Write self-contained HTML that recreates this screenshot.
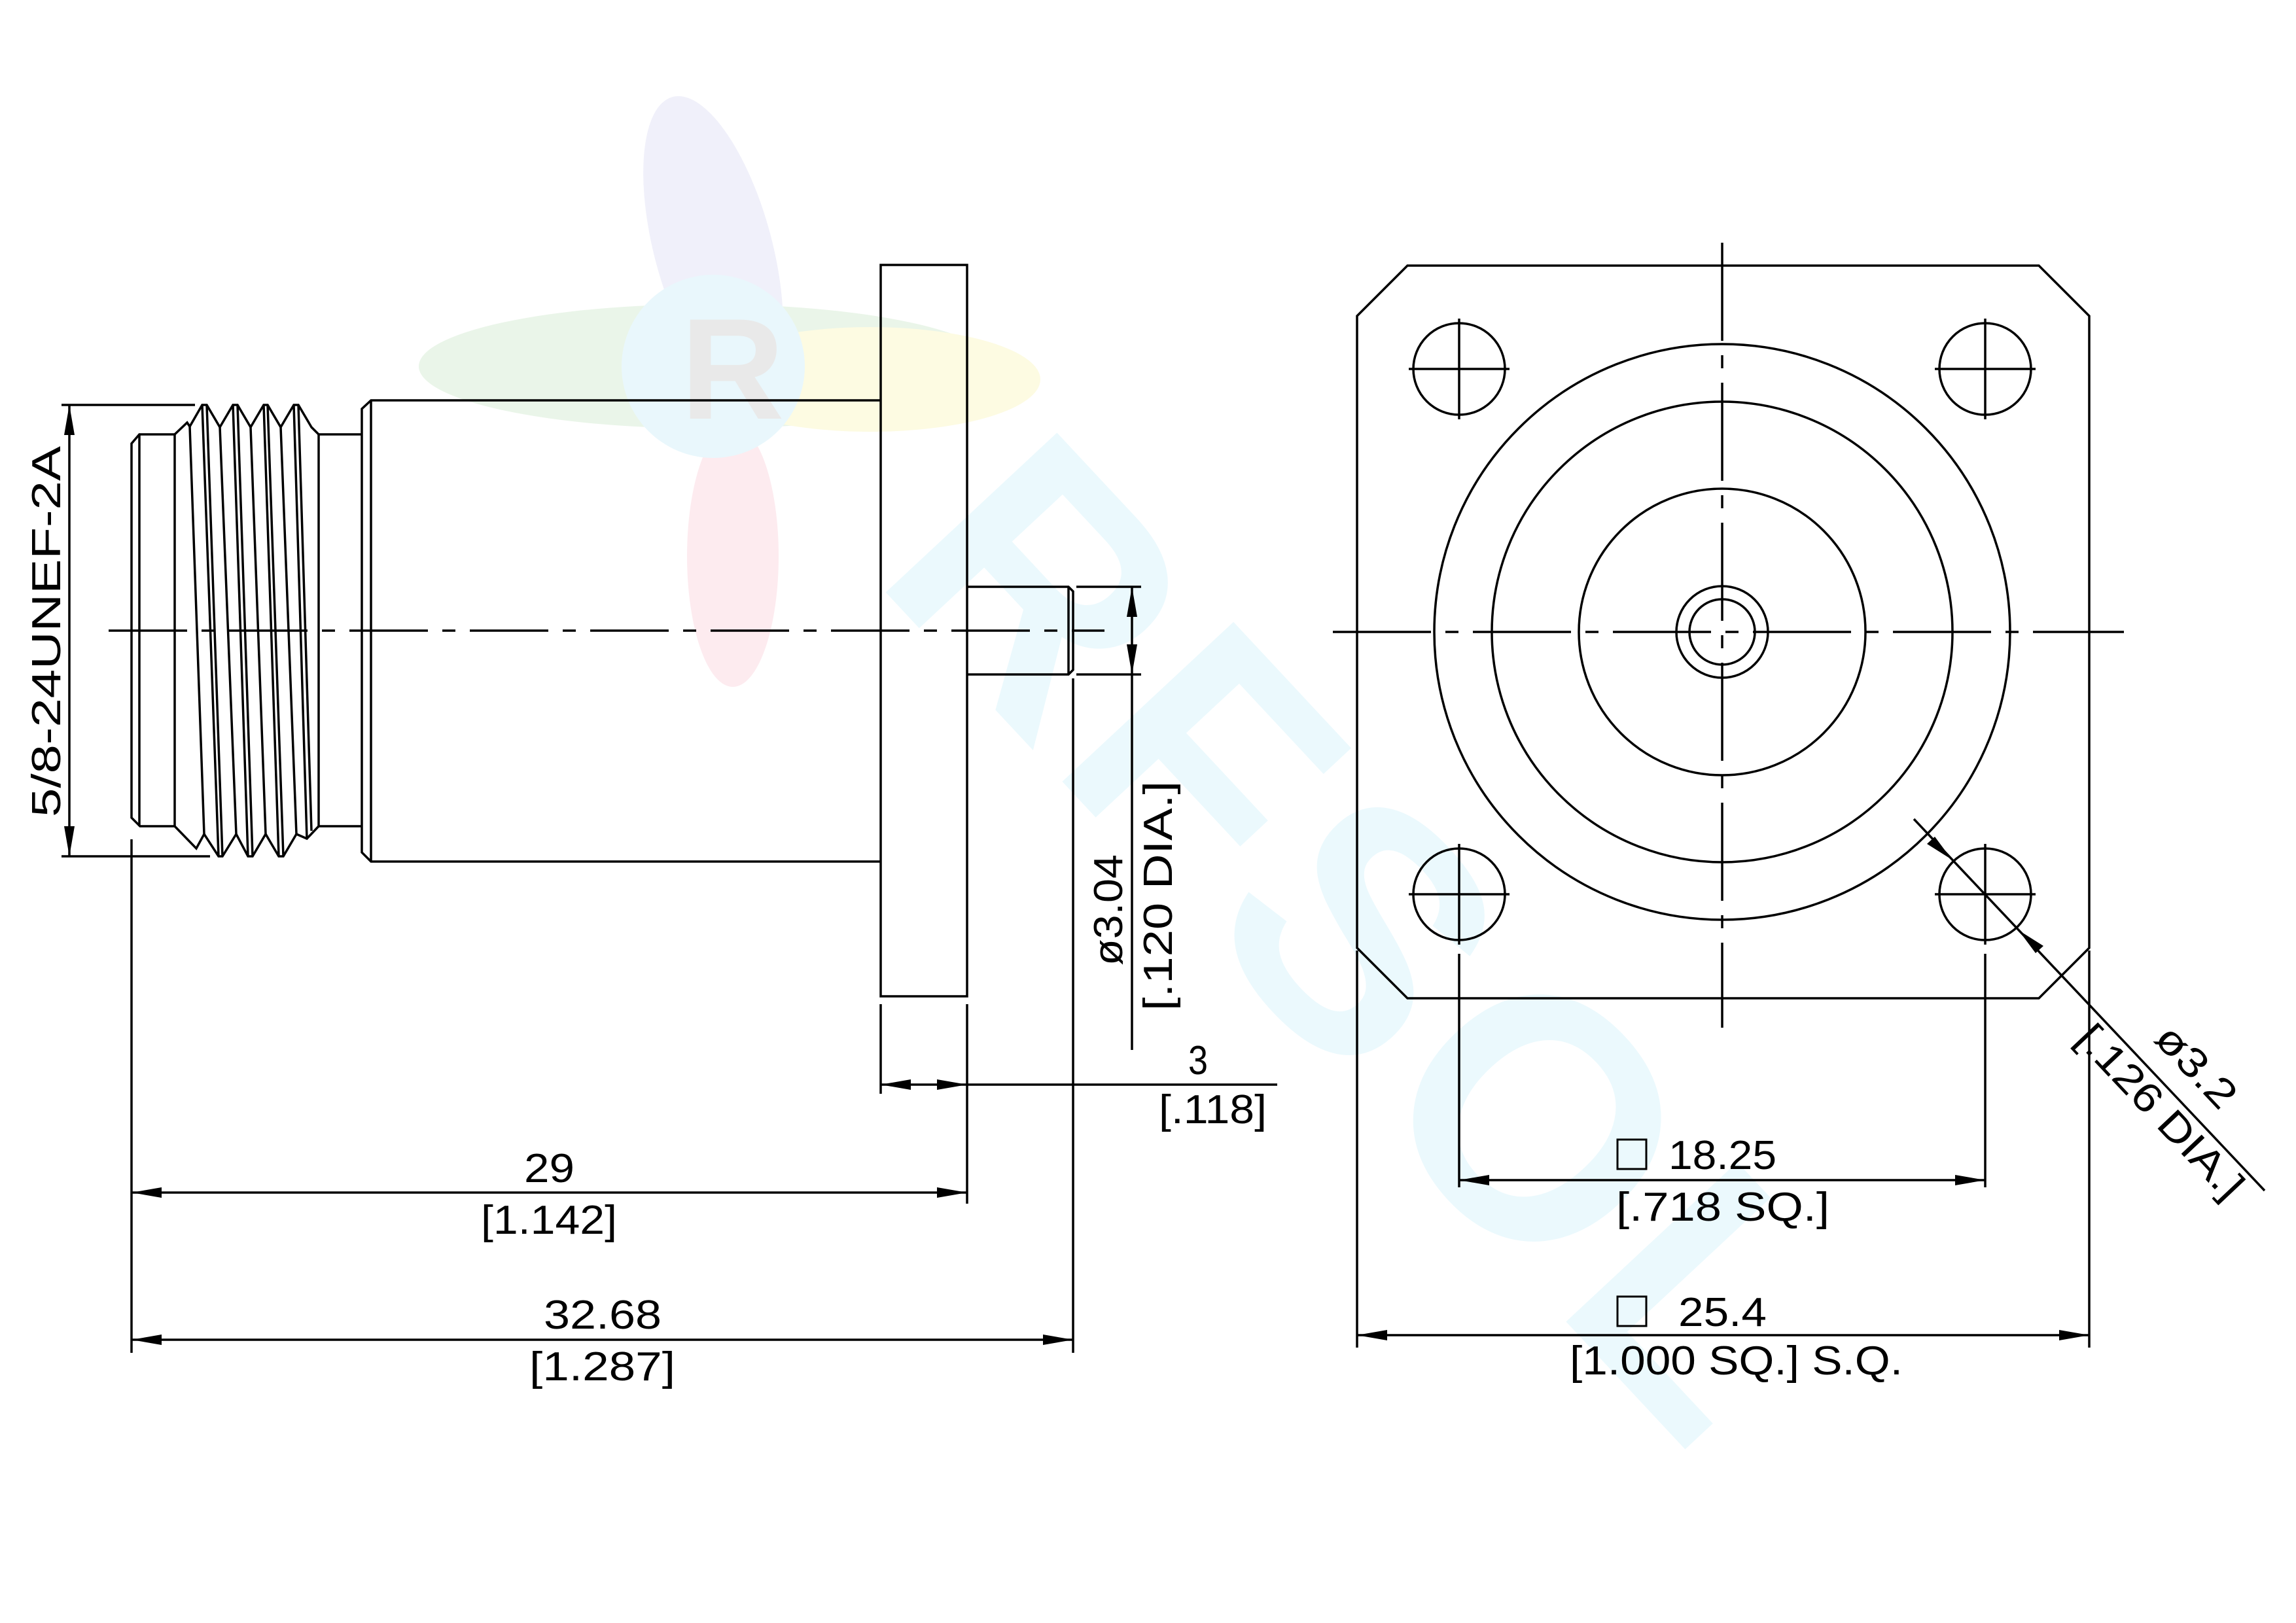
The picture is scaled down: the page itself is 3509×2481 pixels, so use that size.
<!DOCTYPE html>
<html><head><meta charset="utf-8"><style>
html,body{margin:0;padding:0;background:#fff;}
svg{display:block;}
text{font-family:"Liberation Sans",sans-serif;font-size:62px;fill:#000;}
</style></head><body>
<svg width="3509" height="2481" viewBox="0 0 3509 2481" xmlns="http://www.w3.org/2000/svg">
<!-- watermark -->
<g opacity="0.22">
<ellipse cx="1080" cy="560" rx="440" ry="95" fill="#9fd39a"/>
<ellipse cx="1330" cy="580" rx="260" ry="80" fill="#f3ec7a"/>
<ellipse cx="1090" cy="380" rx="90" ry="240" fill="#b9b9e6" transform="rotate(-15 1090 380)"/>
<ellipse cx="1120" cy="850" rx="70" ry="200" fill="#f3a3b5"/>
<circle cx="1090" cy="560" r="140" fill="#9adcf0"/>
<text x="1040" y="640" style="font-size:220px;font-weight:bold;fill:#999">R</text>
</g>
<g opacity="0.18">
<text x="1330" y="880" transform="rotate(47 1330 880)" style="font-size:520px;font-weight:bold;fill:#8fdcf2;letter-spacing:20px">RFSOL</text>
</g>

<g stroke="#000" stroke-width="3.5" fill="none" stroke-linejoin="miter">
<rect x="1346" y="405" width="132" height="1118"/>
<path d="M1346 612 H567 L553 625 V1303 L567 1317 H1346"/>
<line x1="567" y1="612" x2="567" y2="1317"/>
<path d="M553 664 H487 M553 1263 H487"/>
<line x1="487" y1="664" x2="487" y2="1263"/>
<path d="M267 664 H213 L201 678 V1250 L214 1263 H267"/>
<line x1="213" y1="664" x2="213" y2="1263"/>
<line x1="267" y1="664" x2="267" y2="1263"/>
<path d="M267 664 L286 646 L290 652 L309 619 L316 619 L336 653 L356 619 L363 619 L383 653 L403 619 L409 619 L429 653 L449 619 L456 619 L476 653 L487 664"/>
<path d="M267 1263 L300 1297 L312 1275 L334 1309 L340 1309 L361 1275 L379 1309 L386 1309 L406 1275 L426 1309 L433 1309 L453 1275 L469 1282 L487 1263"/>
<path d="M290 652 L312 1275 M309 619 L334 1309 M316 619 L340 1309 M336 653 L361 1275 M356 619 L379 1309 M363 619 L386 1309 M383 653 L406 1275 M403 619 L426 1309 M409 619 L433 1309 M429 653 L453 1275 M449 619 L469 1282 M456 619 L476 1270"/>
<path d="M1478 897 H1633 L1640 904 V1024 L1633 1031 H1478"/>
<line x1="1633" y1="897" x2="1633" y2="1031"/>
<line x1="166" y1="964" x2="1688" y2="964" stroke-dasharray="120,22,20,22"/>

<line x1="94" y1="619" x2="298" y2="619"/>
<line x1="94" y1="1309" x2="321" y2="1309"/>
<line x1="106" y1="619" x2="106" y2="1309"/>
<line x1="1645" y1="897" x2="1744" y2="897"/>
<line x1="1645" y1="1031" x2="1744" y2="1031"/>
<line x1="1730" y1="897" x2="1730" y2="1605"/>
<line x1="201" y1="1283" x2="201" y2="2068"/>
<line x1="1346" y1="1535" x2="1346" y2="1672"/>
<line x1="1478" y1="1535" x2="1478" y2="1840"/>
<line x1="1640" y1="1037" x2="1640" y2="2068"/>
<line x1="1346" y1="1658" x2="1952" y2="1658"/>
<line x1="201" y1="1823" x2="1478" y2="1823"/>
<line x1="201" y1="2048" x2="1640" y2="2048"/>

<path d="M2151 406 H3116 L3193 483 V1449 L3116 1526 H2151 L2074 1449 V483 Z"/>
<circle cx="2632" cy="966" r="440"/>
<circle cx="2632" cy="966" r="352"/>
<circle cx="2632" cy="966" r="219"/>
<circle cx="2632" cy="966" r="70"/>
<circle cx="2632" cy="966" r="50"/>
<circle cx="2230" cy="564" r="70"/>
<circle cx="3034" cy="564" r="70"/>
<circle cx="2230" cy="1367" r="70"/>
<circle cx="3034" cy="1367" r="70"/>
<path d="M2153 564 H2307 M2230 487 V641 M2957 564 H3111 M3034 487 V641 M2153 1367 H2307 M2230 1290 V1444 M2957 1367 H3111 M3034 1290 V1444"/>
<line x1="2037" y1="966" x2="3246" y2="966" stroke-dasharray="150,22,20,22"/>
<line x1="2632" y1="371" x2="2632" y2="1571" stroke-dasharray="150,22,20,22"/>
<line x1="2074" y1="1453" x2="2074" y2="2060"/>
<line x1="3193" y1="1453" x2="3193" y2="2060"/>
<line x1="2230" y1="1458" x2="2230" y2="1815"/>
<line x1="3034" y1="1458" x2="3034" y2="1815"/>
<line x1="2230" y1="1804" x2="3034" y2="1804"/>
<line x1="2074" y1="2041" x2="3193" y2="2041"/>
<line x1="2925" y1="1252" x2="3461" y2="1820"/>
</g>

<g fill="#000">
<polygon points="106,619 98,665 114,665"/>
<polygon points="106,1309 98,1263 114,1263"/>
<polygon points="1730,897 1722,943 1738,943"/>
<polygon points="1730,1031 1722,985 1738,985"/>
<polygon points="1346,1658 1392,1650 1392,1666"/>
<polygon points="1478,1658 1432,1650 1432,1666"/>
<polygon points="201,1823 247,1815 247,1831"/>
<polygon points="1478,1823 1432,1815 1432,1831"/>
<polygon points="201,2048 247,2040 247,2056"/>
<polygon points="1640,2048 1594,2040 1594,2056"/>
<polygon points="2230,1804 2276,1796 2276,1812"/>
<polygon points="3034,1804 2988,1796 2988,1812"/>
<polygon points="2074,2041 2120,2033 2120,2049"/>
<polygon points="3193,2041 3147,2033 3147,2049"/>
<polygon points="2983,1314 2945,1290 2957,1279"/>
<polygon points="3085,1422 3123,1446 3111,1457"/>
</g>

<text transform="translate(92 1249) rotate(-90)" x="0" y="0" textLength="567" lengthAdjust="spacingAndGlyphs">5/8-24UNEF-2A</text>
<text transform="translate(1715 1476) rotate(-90)" x="0" y="0" textLength="170" lengthAdjust="spacingAndGlyphs">ø3.04</text>
<text transform="translate(1791 1545) rotate(-90)" x="0" y="0" textLength="351" lengthAdjust="spacingAndGlyphs">[.120 DIA.]</text>
<text x="1816" y="1642" textLength="30" lengthAdjust="spacingAndGlyphs">3</text>
<text x="1771" y="1717" textLength="165" lengthAdjust="spacingAndGlyphs">[.118]</text>
<text x="801" y="1807" textLength="77" lengthAdjust="spacingAndGlyphs">29</text>
<text x="735" y="1886" textLength="208" lengthAdjust="spacingAndGlyphs">[1.142]</text>
<text x="831" y="2031" textLength="180" lengthAdjust="spacingAndGlyphs">32.68</text>
<text x="809" y="2110" textLength="223" lengthAdjust="spacingAndGlyphs">[1.287]</text>
<rect x="2472" y="1742" width="44" height="45" fill="none" stroke="#000" stroke-width="3"/>
<text x="2550" y="1787" textLength="165" lengthAdjust="spacingAndGlyphs">18.25</text>
<text x="2470" y="1866" textLength="326" lengthAdjust="spacingAndGlyphs">[.718 SQ.]</text>
<rect x="2472" y="1982" width="44" height="45" fill="none" stroke="#000" stroke-width="3"/>
<text x="2565" y="2027" textLength="135" lengthAdjust="spacingAndGlyphs">25.4</text>
<text x="2399" y="2101" textLength="509" lengthAdjust="spacingAndGlyphs">[1.000 SQ.] S.Q.</text>
<text transform="translate(3290 1590) rotate(46.7)" x="0" y="0" textLength="150" lengthAdjust="spacingAndGlyphs">ø3.2</text>
<text transform="translate(3170 1590) rotate(46.7)" x="0" y="0" textLength="340" lengthAdjust="spacingAndGlyphs">[.126 DIA.]</text>
</svg>
</body></html>
